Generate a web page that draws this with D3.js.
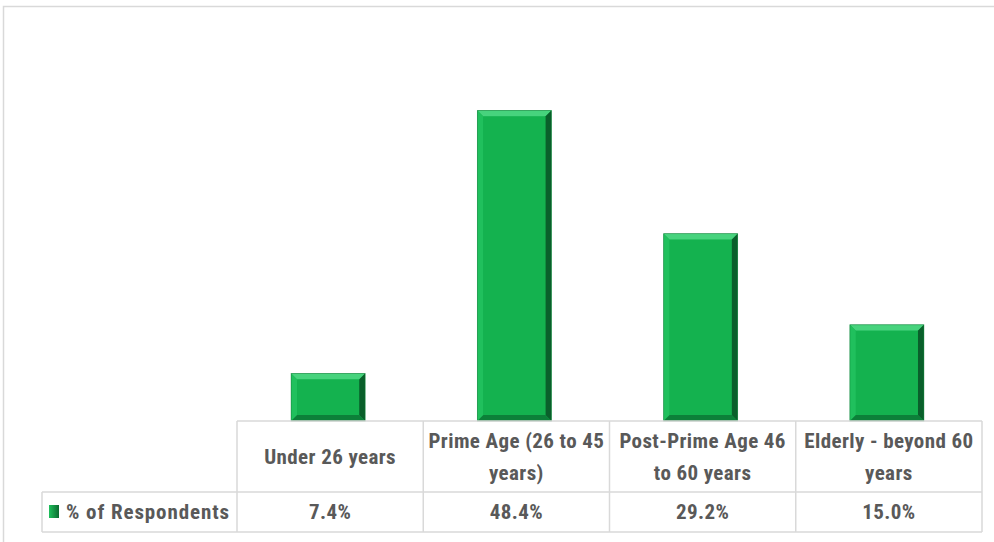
<!DOCTYPE html>
<html><head><meta charset="utf-8">
<script src="https://cdn.jsdelivr.net/npm/d3@7"></script>
<style>html,body{margin:0;padding:0;background:#fff;}svg{display:block;}</style>
</head><body>
<script>
const categories = [["Under 26 years"], ["Prime Age (26 to 45", "years)"], ["Post-Prime Age 46", "to 60 years"], ["Elderly - beyond 60", "years"]];
const values = [7.4, 48.4, 29.2, 15.0];
const valueLabels = ["7.4%", "48.4%", "29.2%", "15.0%"];
const seriesName = "% of Respondents";

const W = 994, H = 542;
const svg = d3.select("body").append("svg").attr("width", W).attr("height", H);
const FONT = "'Liberation Sans Narrow','Arial Narrow','Roboto Condensed','Open Sans',sans-serif";
const TXT = "#595959", GRID = "#d9d9d9";

// outer chart border (cropped on right/bottom)
svg.append("path").attr("d", `M3.5,${H+2} V6.5 H${W+2}`).attr("fill","none").attr("stroke", GRID).attr("stroke-width", 1.5);

const tableLeft = 237, tableRight = 982, base = 421;
const x = d3.scaleBand().domain(d3.range(categories.length)).range([tableLeft, tableRight]).paddingInner(0).paddingOuter(0);
const y = d3.scaleLinear().domain([0, 60]).range([base, 36]);

const defs = svg.append("defs");
const g = svg.append("g");
const barW = 74, bev = 6;
values.forEach((v, i) => {
  const x0 = x(i) + x.bandwidth()/2 - barW/2 - 2, x1 = x0 + barW;
  const y0 = y(v), y1 = y(0);
  const bg = g.append("g");
  bg.append("rect").attr("x", x0).attr("y", y0).attr("width", barW).attr("height", y1 - y0).attr("fill", "#13ad4d");
  bg.append("polygon").attr("points", `${x0},${y0} ${x1},${y0} ${x1-bev},${y0+bev} ${x0+bev},${y0+bev}`).attr("fill", "#47d37d");
  bg.append("polygon").attr("points", `${x0},${y0} ${x0+bev},${y0+bev} ${x0+bev},${y1-bev} ${x0},${y1}`).attr("fill", "#20c05d");
  bg.append("polygon").attr("points", `${x1},${y0} ${x1},${y1} ${x1-bev},${y1-bev} ${x1-bev},${y0+bev}`).attr("fill", "#0a5f2b");
  bg.append("polygon").attr("points", `${x0},${y1} ${x1},${y1} ${x1-bev},${y1-bev} ${x0+bev},${y1-bev}`).attr("fill", "#0c8039");
  bg.append("rect").attr("x", x0+bev).attr("y", y0+bev).attr("width", barW-2*bev).attr("height", Math.max(0, y1-y0-2*bev)).attr("fill", "#14b24f");
  bg.append("rect").attr("x", x0).attr("y", y0).attr("width", barW).attr("height", y1 - y0).attr("fill", "none").attr("stroke", "#0e7a36").attr("stroke-width", 0.8).attr("stroke-opacity", 0.6);
});

// data table
const rowMid = 492, rowBot = 532, legLeft = 42;
const t = svg.append("g").attr("stroke", GRID).attr("stroke-width", 1.5).attr("fill", "none");
t.append("line").attr("x1", tableLeft).attr("x2", tableRight).attr("y1", base).attr("y2", base);
t.append("line").attr("x1", legLeft).attr("x2", tableRight).attr("y1", rowMid).attr("y2", rowMid);
t.append("line").attr("x1", legLeft).attr("x2", tableRight).attr("y1", rowBot).attr("y2", rowBot);
t.append("line").attr("x1", legLeft).attr("x2", legLeft).attr("y1", rowMid).attr("y2", rowBot);
categories.forEach((c, i) => {
  t.append("line").attr("x1", x(i)).attr("x2", x(i)).attr("y1", base).attr("y2", rowBot);
});
t.append("line").attr("x1", tableRight).attr("x2", tableRight).attr("y1", base).attr("y2", rowBot);

const txt = svg.append("g").attr("font-family", FONT).attr("font-weight", "bold").attr("font-size", 21).attr("letter-spacing", 0.4).attr("fill", TXT).attr("text-anchor", "middle");
categories.forEach((lines, i) => {
  const cx = x(i) + x.bandwidth()/2;
  const lh = 32;
  const cy = (base + rowMid)/2;
  lines.forEach((ln, j) => {
    txt.append("text").attr("x", cx).attr("y", cy + (j - (lines.length-1)/2)*lh).attr("dy", "0.35em").text(ln);
  });
  txt.append("text").attr("x", cx).attr("y", (rowMid+rowBot)/2).attr("dy", "0.35em").text(valueLabels[i]);
});

// legend key
const lg = svg.append("g");
const lgGrad = defs.append("linearGradient").attr("id", "lk").attr("x1", 0).attr("x2", 1);
lgGrad.append("stop").attr("offset", 0).attr("stop-color", "#1fc05c");
lgGrad.append("stop").attr("offset", 1).attr("stop-color", "#0b6b30");
lg.append("rect").attr("x", 49).attr("y", 505).attr("width", 10).attr("height", 13).attr("fill", "url(#lk)");
lg.append("text").attr("x", 66).attr("y", (rowMid+rowBot)/2).attr("dy", "0.35em").attr("font-family", FONT).attr("font-weight", "bold").attr("font-size", 21).attr("letter-spacing", 0.9).attr("fill", TXT).text(seriesName);
</script>
</body></html>
